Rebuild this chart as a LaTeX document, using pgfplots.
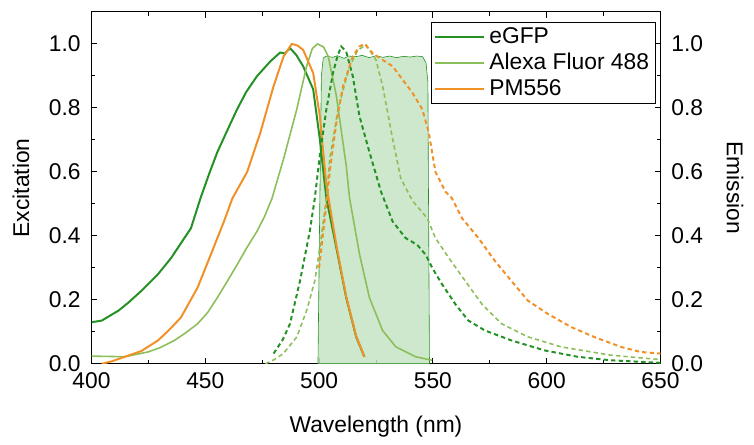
\documentclass[border=0pt]{standalone}
\usepackage{pgfplots}
\pgfplotsset{compat=1.18}
\usepackage{fontspec}
\setmainfont{Liberation Sans}
\definecolor{cgfp}{RGB}{36,145,36}
\definecolor{calexa}{RGB}{140,190,90}
\definecolor{cpm}{RGB}{240,145,40}
\definecolor{cfill}{RGB}{196,228,196}
\begin{document}
\begin{tikzpicture}
\pgfplotsset{
  common/.style={
    width=287pt, height=177.5pt, scale only axis,
    xmin=400, xmax=650, ymin=0, ymax=1.1,
    ytick={0,0.2,0.4,0.6,0.8,1.0},
    tick align=inside,
    major tick length=3pt, minor tick length=2pt,
    minor y tick num=1,
    tick label style={font=\fontsize{11.5}{13}\selectfont},
    label style={font=\fontsize{11.5}{13}\selectfont},
    /pgf/number format/assume math mode=true,
    yticklabel style={/pgf/number format/fixed, /pgf/number format/fixed zerofill, /pgf/number format/precision=1},
    axis line style={line width=0.6pt},
    every tick/.style={line width=0.5pt, black},
  }
}
\begin{axis}[common, name=ax,
  xtick={400,450,...,650}, minor x tick num=1,
  xticklabel style={yshift=-1pt, /pgf/number format/set thousands separator={}},
  xlabel={Wavelength (nm)}, ylabel={Excitation},
  ytick pos=left,
  yticklabel style={xshift=-2pt},
  xlabel style={yshift=-7pt},
  ylabel style={yshift=3pt},
  legend style={at={(rel axis cs:0.597,0.972)}, anchor=north west, draw=black, line width=0.5pt,
    font=\fontsize{11.5}{13}\selectfont, row sep=0pt, inner sep=1pt,
    nodes={inner xsep=2pt, inner ysep=1.7pt}},
  legend cell align=left,
  legend image code/.code={\draw[#1, line width=1.1pt] (0cm,0cm) -- (25pt,0cm);},
]
% filter band
\addplot[draw=cgfp, line width=0.3pt, fill=cfill, fill opacity=0.85, forget plot] coordinates {
(499.5,0) (500.3,0.5) (501.0,0.90) (501.8,0.955) (503,0.962) (506,0.958) (508,0.963) (511,0.955)
(513,0.962) (516,0.960) (519,0.964) (522,0.957) (525,0.963) (528,0.958) (531,0.962) (534,0.957)
(537,0.961) (540,0.959) (543,0.962) (545.5,0.960) (547,0.94) (547.8,0.88) (548,0.6) (548.5,0)
} -- cycle;
% excitation
\addplot[cgfp, line width=1pt] coordinates {
(400,0.130) (404.5,0.135) (408,0.150) (411.8,0.166) (416,0.190) (421.9,0.228) (425,0.250) (429.2,0.280)
(435,0.331) (440.8,0.393) (443.7,0.424) (448,0.520) (452,0.600) (455.3,0.662) (460,0.735) (464,0.796)
(468,0.850) (472.7,0.899) (476,0.925) (478.5,0.945) (482.9,0.973) (485,0.970) (487.2,0.987)
(490,0.965) (493,0.930) (497.4,0.858) (500.3,0.703) (503.2,0.517) (507.6,0.362) (511.9,0.207)
(516.3,0.084) (519.9,0.022)
};
\addplot[calexa, line width=0.8pt] coordinates {
(400,0.024) (414.7,0.022) (424.8,0.037) (430,0.050) (436.4,0.073) (441,0.095) (446.6,0.125) (451,0.160)
(455.3,0.207) (460,0.262) (464,0.310) (468,0.360) (472.7,0.414) (476,0.460) (479.3,0.517) (484.4,0.641)
(490.2,0.796) (494.5,0.930) (497,0.985) (499.3,1.0) (502,0.990) (504,0.961) (507.6,0.837) (511.9,0.620)
(513.4,0.517) (517.8,0.341) (522.1,0.207) (527.9,0.104) (533.7,0.053) (542.4,0.022) (549.7,0.011)
};
\addplot[cpm, line width=1pt] coordinates {
(404.5,0.0) (409,0.008) (414.7,0.022) (421.9,0.040) (429.2,0.073) (434,0.105) (439.3,0.145) (446.6,0.238)
(452.4,0.341) (458.2,0.445) (461.9,0.517) (468.4,0.600) (474.2,0.723) (480,0.868) (484.4,0.961)
(488,1.0) (490.5,0.995) (493,0.981) (497.4,0.909) (500.3,0.775) (503.2,0.558) (507.6,0.370)
(511.9,0.210) (516.3,0.086) (519.9,0.022)
};
\legend{eGFP, Alexa Fluor 488, PM556}
\end{axis}
\begin{axis}[common, name=ax2,
  axis x line=none, axis y line*=right,
  yticklabel style={xshift=2pt},
  ylabel={Emission}, ylabel style={rotate=180, yshift=5pt},
]
\addplot[cgfp, line width=1pt, dash pattern=on 2.2pt off 1.6pt] coordinates {
(480,0.032) (484,0.075) (487.2,0.125) (491.6,0.259) (495.9,0.414) (498.1,0.517) (500.3,0.651)
(503.2,0.796) (506.1,0.909) (508,0.960) (509.7,0.992) (511.9,0.976) (514.8,0.899) (517.7,0.775)
(522.1,0.662) (527.2,0.538) (532.3,0.445) (538,0.393) (543.1,0.372) (546.8,0.341) (549.7,0.300)
(554,0.249) (559.8,0.187) (565.6,0.135) (572.9,0.104) (584.5,0.073) (599,0.042) (613.5,0.022)
(628,0.011) (650,0.003)
};
\addplot[calexa, line width=0.8pt, dash pattern=on 2.2pt off 1.6pt] coordinates {
(476.4,0.0) (480,0.012) (484.3,0.032) (490.2,0.084) (494.5,0.166) (498.1,0.259) (500.3,0.362)
(503.2,0.517) (504.7,0.641) (508.3,0.796) (513.4,0.930) (517,0.980) (520.6,0.997) (525,0.950)
(527.9,0.868) (532.3,0.703) (535.9,0.579) (541,0.510) (547.5,0.455) (551.1,0.393) (557,0.331)
(564.2,0.259) (571.5,0.187) (580.2,0.125) (591.8,0.084) (606.3,0.053) (628,0.027) (650,0.013)
};
\addplot[cpm, line width=1pt, dash pattern=on 2.2pt off 1.6pt] coordinates {
(500,0.30) (502.5,0.455) (505,0.62) (507.6,0.754) (510.5,0.868) (514.8,0.961) (517.7,0.992)
(520,1.0) (523.5,0.971) (527.9,0.950) (532.3,0.930) (536.6,0.889) (541,0.847) (545.3,0.796)
(548.2,0.723) (551.1,0.600) (555.5,0.538) (558.4,0.517) (562.8,0.455) (570,0.393) (577.3,0.321)
(584.5,0.259) (591.8,0.197) (600.5,0.156) (610.7,0.115) (620.8,0.084) (632.5,0.053) (641.2,0.037)
(650,0.032)
};
\end{axis}
\path (ax.north west) ++(0,6pt);
\path (ax.outer west) ++(-3pt,0);
\path (ax2.outer east) ++(2pt,0);
\end{tikzpicture}
\end{document}
